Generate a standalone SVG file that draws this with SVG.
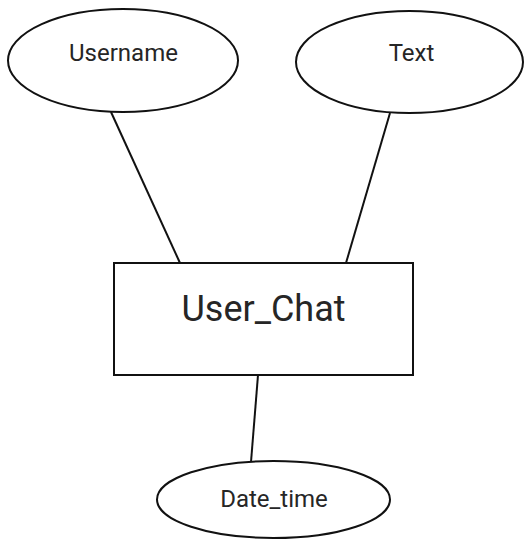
<svg xmlns="http://www.w3.org/2000/svg" width="528" height="541" viewBox="0 0 528 541">
<style>
.shape{fill:#fff;stroke:#111;stroke-width:2}
.conn{stroke:#111;stroke-width:2;fill:none}
.lbl{font-family:Roboto,"Liberation Sans",sans-serif;fill:#262626;text-anchor:middle}
</style>
<rect width="528" height="541" fill="#fff"/>
<g id="connectors">
<line class="conn" x1="111" y1="112" x2="180" y2="263"/>
<line class="conn" x1="390" y1="113" x2="346" y2="263"/>
<line class="conn" x1="258" y1="375" x2="251" y2="462"/>
</g>
<g id="username">
<ellipse class="shape" cx="123" cy="60.5" rx="115" ry="51.5"/>
<text class="lbl" x="123.5" y="61" font-size="24">Username</text>
</g>
<g id="text">
<ellipse class="shape" cx="409.5" cy="62" rx="113.5" ry="51"/>
<text class="lbl" x="411.5" y="61" font-size="24">Text</text>
</g>
<g id="user_chat">
<rect class="shape" x="114" y="263" width="299" height="112"/>
<text class="lbl" x="263.5" y="321" font-size="36">User_Chat</text>
</g>
<g id="date_time">
<ellipse class="shape" cx="273.5" cy="499.5" rx="116.5" ry="38.5"/>
<text class="lbl" x="274" y="507" font-size="24">Date_time</text>
</g>
</svg>
